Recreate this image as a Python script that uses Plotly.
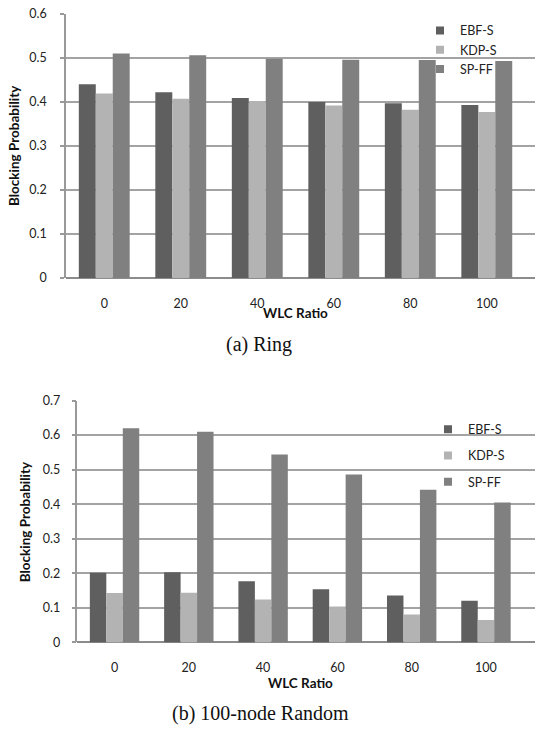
import plotly.graph_objects as go

categories = ["0", "20", "40", "60", "80", "100"]
series_names = ["EBF-S", "KDP-S", "SP-FF"]

ring_ebf = [0.440, 0.422, 0.409, 0.400, 0.397, 0.393]
ring_kdp = [0.419, 0.407, 0.402, 0.392, 0.382, 0.377]
ring_spff = [0.510, 0.506, 0.498, 0.496, 0.495, 0.493]

rand_ebf = [0.202, 0.203, 0.177, 0.154, 0.136, 0.121]
rand_kdp = [0.143, 0.144, 0.124, 0.104, 0.081, 0.065]
rand_spff = [0.620, 0.610, 0.544, 0.486, 0.442, 0.405]

ring_ticks = [0, 0.1, 0.2, 0.3, 0.4, 0.5, 0.6]
ring_ticktext = ["0", "0.1", "0.2", "0.3", "0.4", "0.5", "0.6"]
rand_ticks = [0, 0.1, 0.2, 0.3, 0.4, 0.5, 0.6, 0.7]
rand_ticktext = ["0", "0.1", "0.2", "0.3", "0.4", "0.5", "0.6", "0.7"]

colors = ["#5f5f5f", "#b3b3b3", "#808080"]

W, H = 535, 735
SANS = "Lato"
SERIF = "Liberation Serif"

fig = go.Figure()

ring_data = [ring_ebf, ring_kdp, ring_spff]
rand_data = [rand_ebf, rand_kdp, rand_spff]

for name, vals, c in zip(series_names, ring_data, colors):
    fig.add_trace(go.Bar(x=categories, y=vals, name=name, marker=dict(color=c, line=dict(width=0)),
                         xaxis="x", yaxis="y", showlegend=False))
for name, vals, c in zip(series_names, rand_data, colors):
    fig.add_trace(go.Bar(x=categories, y=vals, name=name, marker=dict(color=c, line=dict(width=0)),
                         xaxis="x2", yaxis="y2", showlegend=False))

# legend entries (small square markers like the original)
for name, c in zip(series_names, colors):
    fig.add_trace(go.Scatter(x=[None], y=[None], mode="markers", name=name,
                             marker=dict(symbol="square", size=8, color=c),
                             xaxis="x", yaxis="y", legend="legend", legendgroup="a" + name))
for name, c in zip(series_names, colors):
    fig.add_trace(go.Scatter(x=[None], y=[None], mode="markers", name=name,
                             marker=dict(symbol="square", size=8, color=c),
                             xaxis="x2", yaxis="y2", legend="legend2", legendgroup="b" + name))

def px_x(p):
    return p / W

def px_y(p):
    return 1 - p / H

grid_c = "#a3a3a3"
axis_c = "#999999"
tick_font = dict(family=SANS, size=12.5, color="#222222")
title_font = dict(family=SANS, size=13.5, color="#111111", weight="bold")

fig.update_layout(
    width=W, height=H,
    margin=dict(l=0, r=0, t=0, b=0),
    paper_bgcolor="white", plot_bgcolor="white",
    barmode="group", bargap=0.335, bargroupgap=0,
    xaxis=dict(domain=[px_x(66), 1.0], range=[-0.5, 5.63], type="category",
               anchor="y", showgrid=False, showline=False, ticks="",
               tickfont=tick_font, ticklabelstandoff=16, fixedrange=True),
    yaxis=dict(domain=[px_y(275.7), px_y(6)], range=[0, 0.6], anchor="x",
               tickvals=ring_ticks, ticktext=ring_ticktext,
               showgrid=True, gridcolor=grid_c, gridwidth=1.5,
               showline=True, linecolor=axis_c, linewidth=1.5,
               ticks="outside", ticklen=4, tickcolor=axis_c, tickwidth=1.5,
               tickfont=tick_font, ticklabelstandoff=11,
               zeroline=True, zerolinecolor="#8c8c8c", zerolinewidth=2),
    xaxis2=dict(domain=[px_x(77.4), 1.0], range=[-0.5, 5.66], type="category",
                anchor="y2", showgrid=False, showline=False, ticks="",
                tickfont=tick_font, ticklabelstandoff=16),
    yaxis2=dict(domain=[px_y(647.7), px_y(400.7)], range=[0, 0.7], anchor="x2",
                tickvals=rand_ticks, ticktext=rand_ticktext,
                showgrid=True, gridcolor=grid_c, gridwidth=1.5,
                showline=True, linecolor=axis_c, linewidth=1.5,
                ticks="outside", ticklen=4, tickcolor=axis_c, tickwidth=1.5,
                tickfont=tick_font, ticklabelstandoff=9,
                zeroline=True, zerolinecolor="#8c8c8c", zerolinewidth=2),
    legend=dict(x=px_x(420), y=px_y(8), xanchor="left", yanchor="top",
                bgcolor="rgba(0,0,0,0)", font=dict(family=SANS, size=12.5, color="#222222"),
                tracegroupgap=0, itemclick=False),
    legend2=dict(x=px_x(428), y=px_y(415), xanchor="left", yanchor="top",
                 bgcolor="rgba(0,0,0,0)", font=dict(family=SANS, size=12.5, color="#222222"),
                 tracegroupgap=7, itemclick=False),
)

annotations = [
    dict(text="Blocking Probability", x=px_x(14), y=px_y(141), xref="paper", yref="paper",
         textangle=-90, showarrow=False, font=title_font, xanchor="center", yanchor="middle"),
    dict(text="WLC Ratio", x=px_x(295.5), y=px_y(311.7), xref="paper", yref="paper",
         showarrow=False, font=dict(family=SANS, size=13.5, color="#111111", weight="bold"),
         xanchor="center", yanchor="middle"),
    dict(text="(a) Ring", x=px_x(259), y=px_y(343), xref="paper", yref="paper",
         showarrow=False, font=dict(family=SERIF, size=20, color="#111111"),
         xanchor="center", yanchor="middle"),
    dict(text="Blocking Probability", x=px_x(25), y=px_y(525), xref="paper", yref="paper",
         textangle=-90, showarrow=False, font=title_font, xanchor="center", yanchor="middle"),
    dict(text="WLC Ratio", x=px_x(300), y=px_y(689.3), xref="paper", yref="paper",
         showarrow=False, font=dict(family=SANS, size=13.5, color="#111111", weight="bold"),
         xanchor="center", yanchor="middle"),
    dict(text="(b) 100-node Random", x=px_x(260), y=px_y(720.7), xref="paper", yref="paper",
         showarrow=False, font=dict(family=SERIF, size=20, color="#111111"),
         xanchor="center", yanchor="middle"),
]
fig.update_layout(annotations=annotations)

fig.write_html("out.html")
